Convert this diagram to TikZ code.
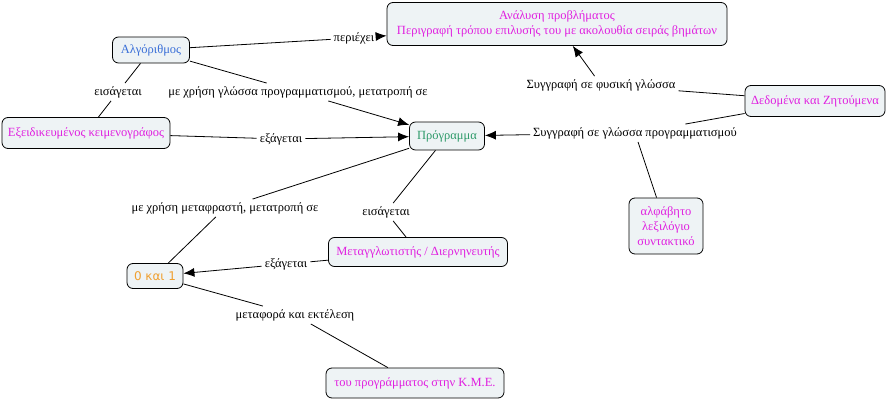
\documentclass[tikz,border=0pt]{standalone}
\usepackage{fontspec}
\setmainfont{Liberation Serif}
\newfontfamily\numfont{DejaVu Sans}
\usetikzlibrary{arrows.meta}
\definecolor{cbox}{HTML}{EEF3F5}
\definecolor{cmag}{HTML}{E020E0}
\definecolor{cblue}{HTML}{3A6FD8}
\definecolor{cgreen}{HTML}{2E9A6A}
\definecolor{corange}{HTML}{F0A030}
\tikzset{
  cmap_box/.style = {draw=black, fill=cbox, rounded corners=6pt, align=center, inner sep=2pt, line width=0.8pt, font=\fontsize{12.5}{15}\selectfont},
  cmap_mag/.style = {cmap_box, text=cmag},
  cmap_lbl/.style = {inner sep=3pt, font=\fontsize{12.5}{14}\selectfont},
  cmap_line/.style = {draw, line width=0.8pt},
  cmap_arr/.style = {cmap_line, -{Latex[length=11pt,width=9pt]}}
}

\begin{document}
\begin{tikzpicture}[x=1pt, y=-1pt]
\useasboundingbox (0,0) rectangle (890,401);
\node [cmap_mag, minimum width=340pt, minimum height=43pt] (analysis) at (557,24) {Ανάλυση προβλήματος\\Περιγραφή τρόπου επιλυσής του με ακολουθία σειράς βημάτων};
\node [cmap_box, text=cblue, minimum width=77pt, minimum height=26pt] (algo) at (151,50) {Αλγόριθμος};
\node [cmap_mag, minimum width=168pt, minimum height=31pt] (editor) at (86,133) {Εξειδικευμένος κειμενογράφος};
\node [cmap_box, text=cgreen, minimum width=75pt, minimum height=28pt] (prog) at (447,136) {Πρόγραμμα};
\node [cmap_mag, minimum width=140pt, minimum height=31pt] (data) at (815,101) {Δεδομένα και Ζητούμενα};
\node [cmap_mag, minimum width=74pt, minimum height=56pt] (alph) at (666,226) {αλφάβητο\\λεξιλόγιο\\συντακτικό};
\node [cmap_mag, minimum width=179pt, minimum height=29pt] (comp) at (418,252) {Μεταγγλωτιστής / Διερνηνευτής};
\node [cmap_box, text=corange, font=\numfont\fontsize{12}{14}\selectfont, minimum width=56pt, minimum height=25pt] (bits) at (155,276) {0 και 1};
\node [cmap_mag, minimum width=178pt, minimum height=30pt] (cpu) at (415,383) {του προγράμματος στην Κ.Μ.Ε.};

\node [cmap_lbl] (l_contains) at (354,38) {περιέχει};
\node [cmap_lbl] (l_enter1) at (118,92) {εισάγεται};
\node [cmap_lbl] (l_uselang) at (298,92) {με χρήση γλώσσα προγραμματισμού, μετατροπή σε};
\node [cmap_lbl] (l_export1) at (281,139) {εξάγεται};
\node [cmap_lbl] (l_natural) at (601,85) {Συγγραφή σε φυσική γλώσσα};
\node [cmap_lbl] (l_proglang) at (635,133) {Συγγραφή σε γλώσσα προγραμματισμού};
\node [cmap_lbl] (l_translate) at (225,208) {με χρήση μεταφραστή, μετατροπή σε};
\node [cmap_lbl] (l_enter2) at (386,212) {εισάγεται};
\node [cmap_lbl] (l_export2) at (286,264) {εξάγεται};
\node [cmap_lbl] (l_transfer) at (295,315) {μεταφορά και εκτέλεση};

\draw [cmap_line] (algo) -- (l_contains);
\draw [cmap_arr] (l_contains) -- (analysis);
\draw [cmap_line] (algo) -- (l_enter1);
\draw [cmap_line] (l_enter1) -- (editor);
\draw [cmap_line] (algo) -- (l_uselang);
\draw [cmap_arr] (l_uselang) -- (prog);
\draw [cmap_line] (editor) -- (l_export1);
\draw [cmap_arr] (l_export1) -- (prog);
\draw [cmap_line] (data) -- (l_natural);
\draw [cmap_arr] (l_natural) -- (analysis);
\draw [cmap_line] (data) -- (l_proglang);
\draw [cmap_arr] (l_proglang) -- (prog);
\draw [cmap_line] (alph) -- (l_proglang);
\draw [cmap_line] (prog) -- (l_translate);
\draw [cmap_line] (l_translate) -- (bits);
\draw [cmap_line] (prog) -- (l_enter2);
\draw [cmap_line] (l_enter2) -- (comp);
\draw [cmap_line] (comp) -- (l_export2);
\draw [cmap_arr] (l_export2) -- (bits);
\draw [cmap_line] (bits) -- (l_transfer);
\draw [cmap_line] (l_transfer) -- (cpu);
\end{tikzpicture}
\end{document}
